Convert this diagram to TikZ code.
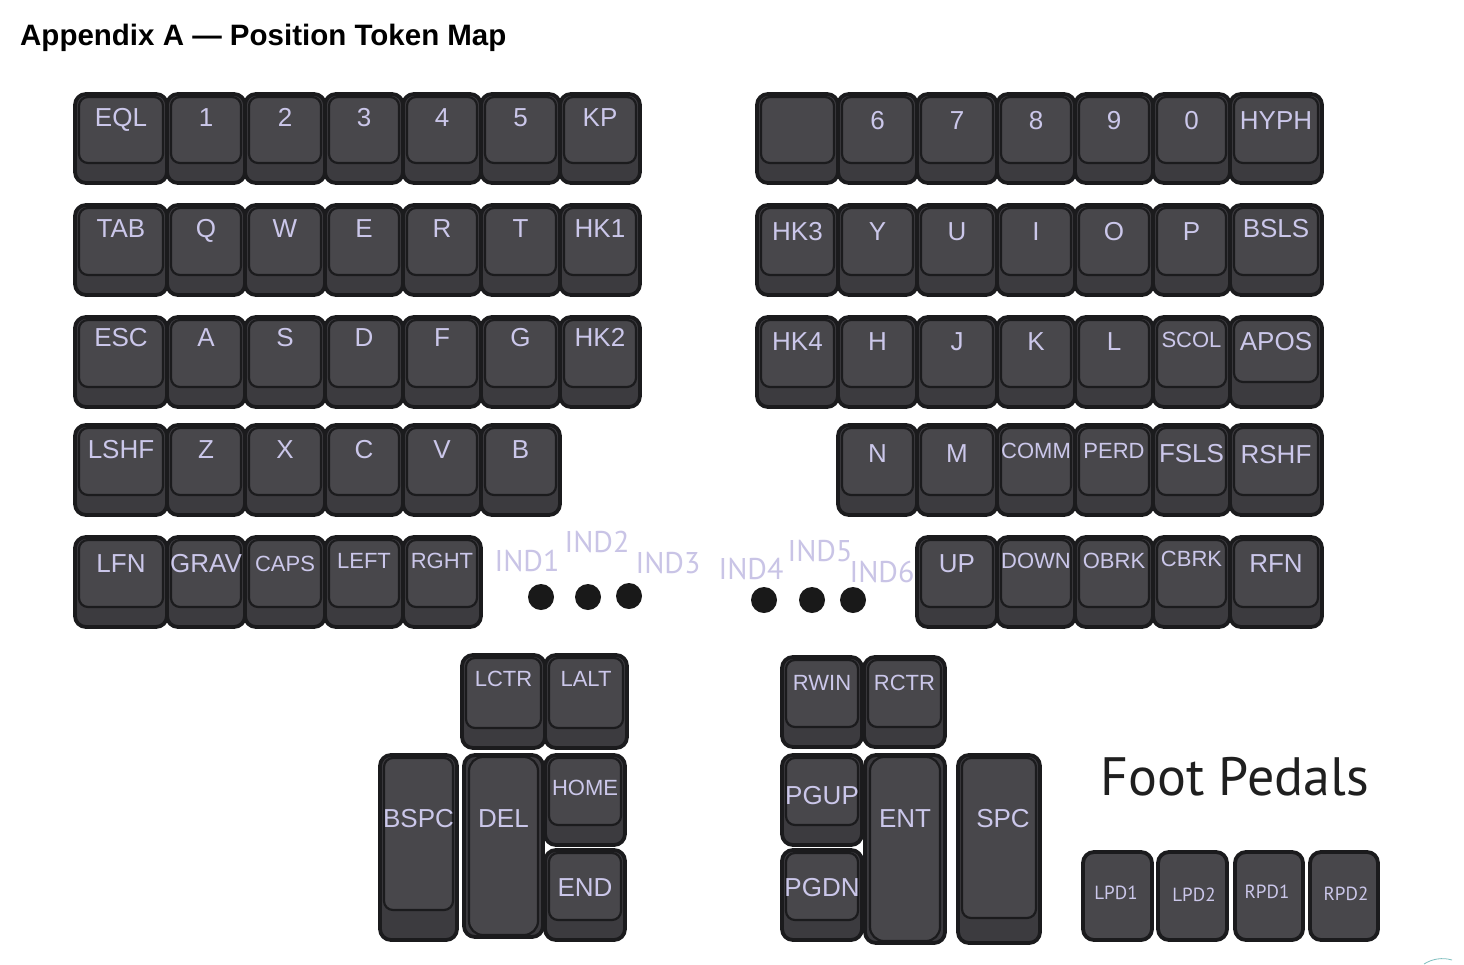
\documentclass[tikz,border=0pt]{standalone}
\usepackage{fontspec}
\setmainfont{Liberation Sans}
\newfontfamily\ptsans{PT Sans}
\definecolor{kbase}{HTML}{3C3B3F}
\definecolor{kcap}{HTML}{48474B}
\definecolor{kline}{HTML}{1B1B1D}
\definecolor{klbl}{HTML}{CBC7EA}
\definecolor{indlbl}{HTML}{C9C4E6}
\tikzset{
  keybase/.style={draw=kline, line width=3.8pt, fill=kbase, rounded corners=11pt, inner sep=0pt, outer sep=0pt, rectangle},
  keycap/.style={draw=kline, line width=2.2pt, fill=kcap, rounded corners=9pt},
  tallcap/.style={draw=kline, line width=2.2pt, fill=kcap, rounded corners=14pt},
  pedal/.style={draw=kline, line width=3.8pt, fill=kcap, rounded corners=11pt, inner sep=0pt, outer sep=0pt, rectangle},
  lbl/.style={text=klbl, inner sep=0pt},
  indl/.style={text=indlbl, inner sep=0pt, font=\ptsans\fontsize{30}{30}\selectfont, anchor=base},
  pedl/.style={text=klbl, inner sep=0pt, font=\ptsans\fontsize{19}{19}\selectfont, anchor=base},
  dot/.style={circle, fill=black!90, minimum size=26pt, inner sep=0pt},
}
% name, x1, x2, y1, y2, label, label centre y, font size, cap bottom gap
\newcommand\kb[9]{%
  \node[keybase, minimum width={#3-#2}, minimum height={#5-#4}] (#1) at ({(#2+#3)/2},{(#4+#5)/2}) {};
  \draw[keycap] ([xshift=4,yshift=-3]#1.north west) rectangle ([xshift=-4,yshift=#9]#1.south east);
  \node[lbl, font=\fontsize{#8}{#8}\selectfont, anchor=base] (#1-t) at ({(#2+#3)/2},{#7+0.358*#8}) {#6};
}
\newcommand\tallkey[7]{%
  \node[keybase, minimum width={#3-#2}, minimum height={#5-#4}] (#1) at ({(#2+#3)/2},{(#4+#5)/2}) {};
  \draw[tallcap] ([xshift=5,yshift=-2]#1.north west) rectangle ([xshift=-5,yshift=2]#1.south east);
  \node[lbl, font=\fontsize{26}{26}\selectfont, anchor=base] (#1-t) at ({(#2+#3)/2+#7},{#6+9.3}) {#1};
}
\begin{document}
\begin{tikzpicture}[x=1pt, y=-1pt]
\useasboundingbox[fill=white] (0,0) rectangle (1464,964);
\node[anchor=base west, inner sep=0pt, font=\bfseries\fontsize{29.5}{29.5}\selectfont] (title) at (20,45) {Appendix A — Position Token Map};

% ---------- left half ----------
% row 1
\kb{EQL}{75}{167}{94}{183}{EQL}{117}{26}{20}
\kb{n1}{167}{245}{94}{183}{1}{117}{26}{20}
\kb{n2}{245}{325}{94}{183}{2}{117}{26}{20}
\kb{n3}{325}{403}{94}{183}{3}{117}{26}{20}
\kb{n4}{403}{481}{94}{183}{4}{117}{26}{20}
\kb{n5}{481}{560}{94}{183}{5}{117}{26}{20}
\kb{KP}{560}{640}{94}{183}{KP}{117}{26}{20}
% row 2
\kb{TAB}{75}{167}{205}{295}{TAB}{228}{26}{20}
\kb{Q}{167}{245}{205}{295}{Q}{228}{26}{20}
\kb{W}{245}{325}{205}{295}{W}{228}{26}{20}
\kb{E}{325}{403}{205}{295}{E}{228}{26}{20}
\kb{R}{403}{481}{205}{295}{R}{228}{26}{20}
\kb{T}{481}{560}{205}{295}{T}{228}{26}{20}
\kb{HK1}{560}{640}{205}{295}{HK1}{228}{26}{20}
% row 3
\kb{ESC}{75}{167}{317}{407}{ESC}{337}{26}{20}
\kb{A}{167}{245}{317}{407}{A}{337}{26}{20}
\kb{S}{245}{325}{317}{407}{S}{337}{26}{20}
\kb{D}{325}{403}{317}{407}{D}{337}{26}{20}
\kb{F}{403}{481}{317}{407}{F}{337}{26}{20}
\kb{G}{481}{560}{317}{407}{G}{337}{26}{20}
\kb{HK2}{560}{640}{317}{407}{HK2}{337}{26}{20}
% row 4
\kb{LSHF}{75}{167}{425}{515}{LSHF}{449}{26}{20}
\kb{Z}{167}{245}{425}{515}{Z}{449}{26}{20}
\kb{X}{245}{325}{425}{515}{X}{449}{26}{20}
\kb{C}{325}{403}{425}{515}{C}{449}{26}{20}
\kb{V}{403}{481}{425}{515}{V}{449}{26}{20}
\kb{B}{481}{560}{425}{515}{B}{449}{26}{20}
% row 5
\kb{LFN}{75}{167}{537}{627}{LFN}{563}{26}{20}
\kb{GRAV}{167}{245}{537}{627}{GRAV}{563}{26}{20}
\kb{CAPS}{245}{325}{537}{627}{CAPS}{564}{22}{20}
\kb{LEFT}{325}{403}{537}{627}{LEFT}{561}{22}{20}
\kb{RGHT}{403}{481}{537}{627}{RGHT}{561}{22}{20}

% ---------- right half ----------
\kb{blank}{757}{838}{94}{183}{}{120}{26}{20}
\kb{n6}{838}{917}{94}{183}{6}{120}{26}{20}
\kb{n7}{917}{997}{94}{183}{7}{120}{26}{20}
\kb{n8}{997}{1075}{94}{183}{8}{120}{26}{20}
\kb{n9}{1075}{1153}{94}{183}{9}{120}{26}{20}
\kb{n0}{1153}{1230}{94}{183}{0}{120}{26}{20}
\kb{HYPH}{1230}{1322}{94}{183}{HYPH}{120}{26}{20}
% row 2
\kb{HK3}{757}{838}{205}{295}{HK3}{231}{26}{20}
\kb{Y}{838}{917}{205}{295}{Y}{231}{26}{20}
\kb{U}{917}{997}{205}{295}{U}{231}{26}{20}
\kb{I}{997}{1075}{205}{295}{I}{231}{26}{20}
\kb{O}{1075}{1153}{205}{295}{O}{231}{26}{20}
\kb{P}{1153}{1230}{205}{295}{P}{231}{26}{20}
\kb{BSLS}{1230}{1322}{205}{295}{BSLS}{228}{26}{20}
% row 3
\kb{HK4}{757}{838}{317}{407}{HK4}{341}{26}{20}
\kb{H}{838}{917}{317}{407}{H}{341}{26}{20}
\kb{J}{917}{997}{317}{407}{J}{341}{26}{20}
\kb{K}{997}{1075}{317}{407}{K}{341}{26}{20}
\kb{L}{1075}{1153}{317}{407}{L}{341}{26}{20}
\kb{SCOL}{1153}{1230}{317}{407}{SCOL}{340}{22}{20}
\kb{APOS}{1230}{1322}{317}{407}{APOS}{341}{26}{25}
% row 4
\kb{N}{838}{917}{425}{515}{N}{453}{26}{20}
\kb{M}{917}{997}{425}{515}{M}{453}{26}{20}
\kb{COMM}{997}{1075}{425}{515}{COMM}{451}{22}{20}
\kb{PERD}{1075}{1153}{425}{515}{PERD}{451}{22}{20}
\kb{FSLS}{1153}{1230}{425}{515}{FSLS}{453}{26}{20}
\kb{RSHF}{1230}{1322}{425}{515}{RSHF}{454}{26}{20}
% row 5
\kb{UP}{917}{997}{537}{627}{UP}{563}{26}{20}
\kb{DOWN}{997}{1075}{537}{627}{DOWN}{561}{22}{20}
\kb{OBRK}{1075}{1153}{537}{627}{OBRK}{561}{22}{20}
\kb{CBRK}{1153}{1230}{537}{627}{CBRK}{559}{22}{20}
\kb{RFN}{1230}{1322}{537}{627}{RFN}{563}{26}{20}

% ---------- index labels and dots ----------
\node[indl] (ind1) at (527,571) {IND1};
\node[indl] (ind2) at (597,552) {IND2};
\node[indl] (ind3) at (668,573) {IND3};
\node[indl] (ind4) at (751,579) {IND4};
\node[indl] (ind5) at (820,561) {IND5};
\node[indl] (ind6) at (882,582) {IND6};
\node[dot] (d1) at (541,597) {};
\node[dot] (d2) at (588,597) {};
\node[dot] (d3) at (629,596) {};
\node[dot] (d4) at (764,600) {};
\node[dot] (d5) at (812,600) {};
\node[dot] (d6) at (853,600) {};

% ---------- left thumb cluster ----------
\kb{LCTR}{462}{545}{655}{748}{LCTR}{679}{22}{20}
\kb{LALT}{545}{627}{655}{748}{LALT}{679}{22}{20}
\kb{BSPC}{380}{457}{755}{940}{BSPC}{818}{26}{30}
\tallkey{DEL}{464}{543}{755}{937}{818}{0}
\kb{HOME}{545}{625}{755}{845}{HOME}{788}{22}{20}
\kb{END}{545}{625}{850}{940}{END}{887}{26}{20}

% ---------- right thumb cluster ----------
\kb{RWIN}{782}{862}{657}{747}{RWIN}{683}{22}{20}
\kb{RCTR}{864}{945}{657}{747}{RCTR}{683}{22}{20}
\kb{PGUP}{782}{862}{755}{845}{PGUP}{795}{26}{20}
\kb{PGDN}{782}{862}{850}{940}{PGDN}{887}{26}{20}
\tallkey{ENT}{865}{945}{755}{943}{818}{0}
\node[keybase, minimum width=82, minimum height=188] (SPC) at (999,849) {};
\draw[keycap] ([xshift=4,yshift=-3]SPC.north west) rectangle ([xshift=-4,yshift=25]SPC.south east);
\node[lbl, font=\fontsize{26}{26}\selectfont, anchor=base] (SPC-t) at (1003,827.3) {SPC};

% ---------- foot pedals ----------
\node[anchor=base west, inner sep=0pt, text=black!88, font=\ptsans\fontsize{54}{54}\selectfont] (fp) at (1100,795) {Foot Pedals};
\node[pedal, minimum width=69, minimum height=88] (LPD1) at (1117.5,896) {};
\node[pedal, minimum width=69, minimum height=88] (LPD2) at (1192.5,896) {};
\node[pedal, minimum width=68, minimum height=88] (RPD1) at (1269,896) {};
\node[pedal, minimum width=68, minimum height=88] (RPD2) at (1344,896) {};
\node[pedl] (LPD1-t) at (1116,899) {LPD1};
\node[pedl] (LPD2-t) at (1194,901) {LPD2};
\node[pedl] (RPD1-t) at (1267,898) {RPD1};
\node[pedl] (RPD2-t) at (1346,900) {RPD2};

% small corner mark
\draw[teal!50, line width=0.8pt] (1424,964) .. controls (1432,959) and (1442,957) .. (1452,960);
\end{tikzpicture}
\end{document}
